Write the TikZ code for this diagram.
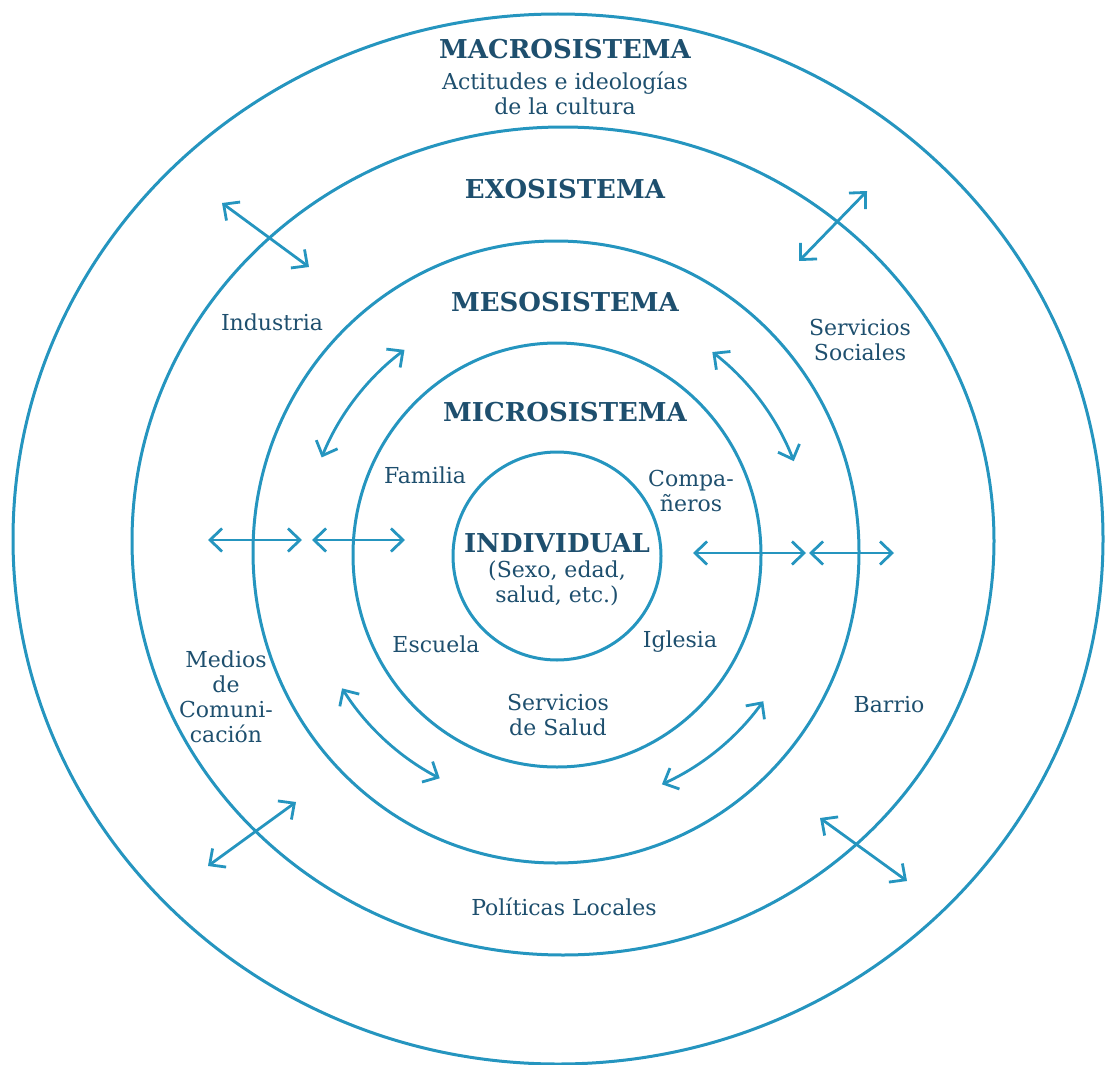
\documentclass[tikz,border=0pt]{standalone}
\usepackage{fontspec}
\setmainfont{DejaVu Serif}
\usepackage{tikz}
\usetikzlibrary{arrows.meta}
\definecolor{ring}{HTML}{2595BF}
\definecolor{ink}{HTML}{1E4F6E}

\begin{document}
\begin{tikzpicture}[x=1pt,y=-1pt,
    ringline/.style={ring, line width=3pt},
    twoway/.style={ring, line width=2.8pt, {Straight Barb[length=12pt,width=23pt]}-{Straight Barb[length=12pt,width=23pt]}},
    sysname/.style={ink, font=\fontsize{26}{30}\selectfont\bfseries, inner sep=0pt},
    txt/.style={ink, font=\fontsize{22}{25}\selectfont, align=center, inner sep=0pt}]
    \useasboundingbox (0,0) rectangle (1106,1065);
    \coordinate (O) at (557,553);
    \draw[ringline] (558,539) ellipse [x radius=545pt, y radius=525pt];
    \draw[ringline] (563,541) ellipse [x radius=431pt, y radius=414pt];
    \draw[ringline] (556,552) ellipse [x radius=303pt, y radius=311pt];
    \draw[ringline] (557,555) ellipse [x radius=204pt, y radius=212pt];
    \draw[ringline] (557,556) circle [radius=104pt];
    \draw[twoway] (208,540) -- (302,540);
    \draw[twoway] (312,540) -- (405,540);
    \draw[twoway] (693,553) -- (806,553);
    \draw[twoway] (809,553) -- (894,553);
    \draw[twoway] (222,203) -- (309,267);
    \draw[twoway] (799,261) -- (867,191);
    \draw[twoway] (208,866) -- (296,802);
    \draw[twoway] (820,818) -- (907,881);
    \draw[twoway] ([shift={(126.9:254pt)}]O) arc [start angle=126.9, end angle=157.9, radius=254pt];
    \draw[twoway] ([shift={(52.3:254pt)}]O) arc [start angle=52.3, end angle=21.2, radius=254pt];
    \draw[twoway] ([shift={(212.2:254pt)}]O) arc [start angle=212.2, end angle=242.5, radius=254pt];
    \draw[twoway] ([shift={(324.3:254pt)}]O) arc [start angle=324.3, end angle=294.4, radius=254pt];
    \node[sysname] (macro) at (565,49) {MACROSISTEMA};
    \node[txt] (cultura) at (565,93) {Actitudes e ideologías\\de la cultura};
    \node[sysname] (exo) at (565,189) {EXOSISTEMA};
    \node[sysname] (meso) at (565,302) {MESOSISTEMA};
    \node[sysname] (micro) at (565,412) {MICROSISTEMA};
    \node[sysname] (indiv) at (557,543) {INDIVIDUAL};
    \node[txt] (rasgos) at (557,583) {(Sexo, edad,\\salud, etc.)};
    \node[txt] (familia) at (425,475) {Familia};
    \node[txt] (companeros) at (691,491) {Compa-\\ñeros};
    \node[txt] (escuela) at (436,644) {Escuela};
    \node[txt] (iglesia) at (680,642) {Iglesia};
    \node[txt] (salud) at (558,715) {Servicios\\de Salud};
    \node[txt] (industria) at (272,322) {Industria};
    \node[txt] (sociales) at (860,340) {Servicios\\Sociales};
    \node[txt] (medios) at (226,697) {Medios\\de\\Comuni-\\cación};
    \node[txt] (barrio) at (889,705) {Barrio};
    \node[txt] (politicas) at (564,907) {Políticas Locales};
\end{tikzpicture}
\end{document}
